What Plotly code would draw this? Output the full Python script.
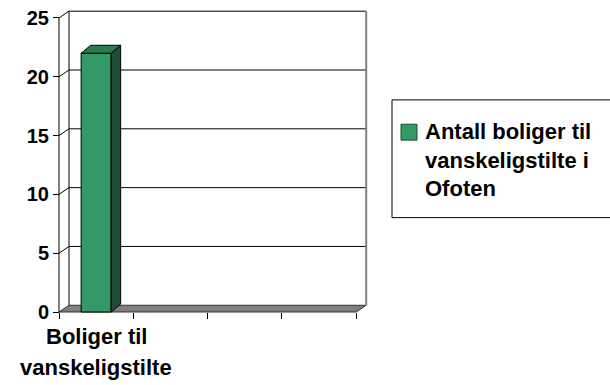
import plotly.graph_objects as go

# ---- data ----
categories = ["Boliger til<br>vanskeligstilte", "", "", ""]
values = [22, None, None, None]
series_name = "Antall boliger til<br>vanskeligstilte i<br>Ofoten"
y_ticks = [0, 5, 10, 15, 20, 25]

# ---- geometry (pixels) ----
W, H = 610, 385
L, R, T, B = 56, 242, 7, 71
pw, ph = W - L - R, H - T - B
front_x_px = 59          # pixel of front-left axis
zero_y_px = 312          # pixel of value 0 on the front axis
px_per_cat = 74.3
px_per_unit = 11.84

x_range = [-0.5 - (front_x_px - L) / px_per_cat, -0.5 + (W - R - front_x_px) / px_per_cat]
y_range = [-(H - B - zero_y_px) / px_per_unit, (zero_y_px - T) / px_per_unit]

def pxx(px):
    return (px - L) / pw

def pxy(py):
    return (H - B - py) / ph

# depth offsets in data units
dxw, dyw = 10 / px_per_cat, 6.8 / px_per_unit      # walls
dxb, dyb = 9.5 / px_per_cat, 8.0 / px_per_unit     # bar
bar_w = 0.404
n = len(categories)
x_left, x_right = -0.5, n - 0.5
ymax = y_ticks[-1]

FONT = "Arial, Liberation Sans, sans-serif"
green_front, green_top, green_side = "#339966", "#2a7a50", "#1e4d34"

shapes = []
# floor
shapes.append(dict(type="path", layer="below",
                   path=f"M{x_left},0 L{x_right},0 L{x_right+dxw},{dyw} L{x_left+dxw},{dyw} Z",
                   fillcolor="#808080", line=dict(color="#333333", width=1)))
# back wall gridlines and side-wall diagonals
for v in y_ticks[1:]:
    shapes.append(dict(type="line", layer="below", x0=x_left + dxw, x1=x_right + dxw,
                       y0=v + dyw, y1=v + dyw, line=dict(color="black", width=1)))
    shapes.append(dict(type="line", layer="below", x0=x_left, x1=x_left + dxw,
                       y0=v, y1=v + dyw, line=dict(color="black", width=1)))
# back wall left edge
shapes.append(dict(type="line", layer="below", x0=x_left + dxw, x1=x_left + dxw,
                   y0=dyw, y1=ymax + dyw, line=dict(color="black", width=1)))
# back wall right edge
shapes.append(dict(type="line", layer="below", x0=x_right + dxw, x1=x_right + dxw,
                   y0=dyw, y1=ymax + dyw, line=dict(color="#808080", width=2)))
# front axis line
shapes.append(dict(type="line", layer="above", x0=x_left, x1=x_left,
                   y0=0, y1=ymax, line=dict(color="black", width=1)))

# 3D faces of bars
for i, v in enumerate(values):
    if v is None:
        continue
    xl, xr = i - bar_w / 2, i + bar_w / 2
    shapes.append(dict(type="path", layer="above",
                       path=f"M{xr},0 L{xr+dxb},{dyb} L{xr+dxb},{v+dyb} L{xr},{v} Z",
                       fillcolor=green_side, line=dict(color="black", width=1)))
    shapes.append(dict(type="path", layer="above",
                       path=f"M{xl},{v} L{xl+dxb},{v+dyb} L{xr+dxb},{v+dyb} L{xr},{v} Z",
                       fillcolor=green_top, line=dict(color="black", width=1)))

# legend box + marker (manual)
shapes.append(dict(type="rect", xref="paper", yref="paper",
                   x0=pxx(392), x1=pxx(615), y0=pxy(217), y1=pxy(98.5),
                   line=dict(color="black", width=1), fillcolor="rgba(0,0,0,0)"))
shapes.append(dict(type="rect", xref="paper", yref="paper",
                   x0=pxx(401), x1=pxx(417), y0=pxy(139), y1=pxy(123),
                   line=dict(color="#1e4d34", width=1), fillcolor=green_front))

TEXT_SIZE = 22
annotations = []
# category labels
for i, c in enumerate(categories):
    for j, line in enumerate(c.split("<br>")):
        if not line:
            continue
        annotations.append(dict(text=line, x=i, xref="x", y=pxy(337 + 31 * j), yref="paper",
                                xanchor="center", yanchor="middle", showarrow=False,
                                font=dict(family=FONT, size=TEXT_SIZE, color="black", weight="bold")))
# legend text
for j, line in enumerate(series_name.split("<br>")):
    annotations.append(dict(text=line, x=pxx(423), xref="paper", y=pxy(130.5 + 28.7 * j), yref="paper",
                            xanchor="left", yanchor="middle", showarrow=False,
                            font=dict(family=FONT, size=TEXT_SIZE, color="black", weight="bold")))

fig = go.Figure(go.Bar(x=list(range(n)), y=values, width=bar_w, name=series_name,
                       marker=dict(color=green_front, line=dict(color="black", width=1)),
                       showlegend=False))

fig.update_layout(
    width=W, height=H,
    margin=dict(l=L, r=R, t=T, b=B, pad=0),
    paper_bgcolor="white", plot_bgcolor="white",
    shapes=shapes, annotations=annotations,
    xaxis=dict(range=x_range, anchor="free", position=pxy(zero_y_px),
               tickvals=[k - 0.5 for k in range(n + 1)], ticks="outside", ticklen=6,
               tickcolor="black", showticklabels=False, showgrid=False, zeroline=False,
               showline=False),
    yaxis=dict(range=y_range, anchor="free", position=pxx(front_x_px),
               tickvals=y_ticks, ticks="outside", ticklen=6, tickcolor="black",
               showgrid=False, zeroline=False, showline=False,
               tickfont=dict(family=FONT, size=20, color="black", weight="bold")),
    showlegend=False,
)

fig.write_html("out.html", config={"displayModeBar": False},
               post_script="document.body.style.margin='0';")
